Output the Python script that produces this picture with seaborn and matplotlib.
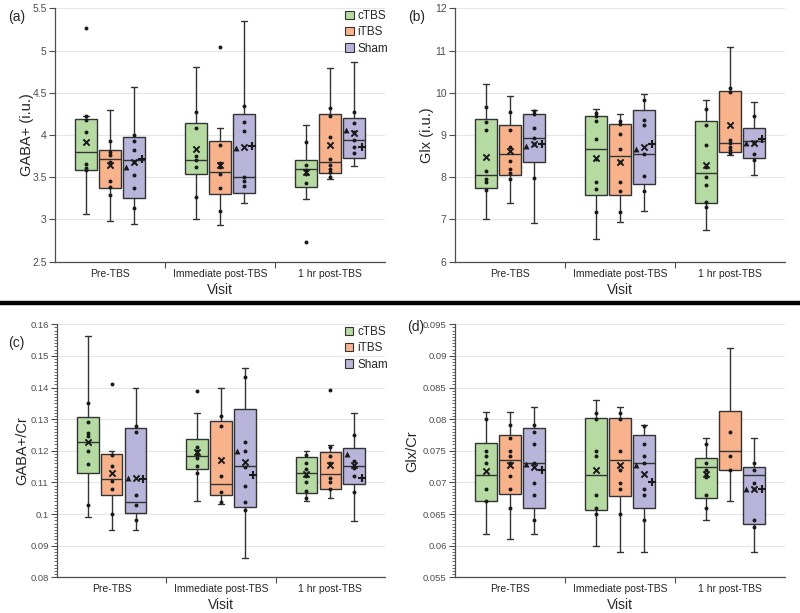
import numpy as np
import pandas as pd
import seaborn as sns
import matplotlib.pyplot as plt
from matplotlib.patches import Patch
from matplotlib.ticker import AutoMinorLocator, FuncFormatter

visits = ["Pre-TBS", "Immediate post-TBS", "1 hr post-TBS"]
groups = ["cTBS", "iTBS", "Sham"]
colors = ["#b5dba2", "#f8b28c", "#b8b4da"]

# box stats per visit/group: [whisker low, q1, median, q3, whisker high]
gaba_box = [[3.07, 3.59, 3.795, 4.19, 4.23], [2.98, 3.375, 3.71, 3.82, 4.30], [2.945, 3.25, 3.70, 3.98, 4.565],
            [3.0, 3.534, 3.704, 4.138, 4.81], [2.934, 3.305, 3.558, 3.933, 4.079], [3.198, 3.313, 3.506, 4.249, 5.35],
            [3.242, 3.388, 3.601, 3.704, 4.118], [3.475, 3.55, 3.676, 4.249, 4.797], [3.637, 3.728, 3.94, 4.198, 4.861]]
gaba_pts = [[5.27, 4.22, 4.18, 4.03, 3.66, 3.61, 3.59], [3.93, 3.80, 3.76, 3.68, 3.46, 3.38, 3.29],
            [4.00, 3.93, 3.82, 3.68, 3.53, 3.375, 3.13],
            [4.27, 4.08, 3.75, 3.70, 3.62, 3.27], [5.046, 3.88, 3.665, 3.62, 3.534, 3.368, 3.10],
            [4.347, 4.15, 4.043, 3.506, 3.452, 3.40],
            [3.92, 3.64, 3.58, 3.538, 3.435, 2.729], [4.316, 4.23, 3.972, 3.71, 3.65, 3.60, 3.56, 3.50],
            [4.268, 4.138, 4.03, 3.94, 3.862, 3.783]]
gaba_mean = [3.92, 3.645, 3.68, 3.83, 3.65, 3.857, 3.558, 3.882, 4.02]
gaba_tri = [3.617, 3.846, 4.059]
gaba_plus = [3.72, 3.869, 3.854]

glx_box = [[7.02, 7.75, 8.05, 9.39, 10.205], [7.40, 8.05, 8.55, 9.23, 9.93], [6.92, 8.37, 8.94, 9.49, 9.59],
           [6.53, 7.59, 8.66, 9.45, 9.61], [6.93, 7.575, 8.50, 9.25, 9.50], [7.20, 7.85, 8.54, 9.60, 9.96],
           [6.76, 7.39, 8.09, 9.33, 9.82], [8.52, 8.60, 8.81, 10.03, 11.09], [8.06, 8.46, 8.85, 9.17, 9.78]]
glx_pts = [[9.67, 9.31, 9.12, 8.15, 7.97, 7.88, 7.70], [9.55, 9.12, 8.71, 8.39, 8.19, 8.11, 7.95],
           [9.57, 9.49, 9.16, 8.94, 8.78, 7.99],
           [9.53, 9.46, 9.33, 8.90, 8.42, 7.88, 7.71, 7.17], [9.34, 9.26, 9.02, 8.66, 8.35, 7.89, 7.67, 7.18],
           [9.83, 9.36, 9.23, 8.54, 8.03, 7.68],
           [9.61, 9.23, 8.76, 8.24, 8.01, 7.82, 7.42, 7.30], [10.12, 10.02, 8.87, 8.80, 8.72, 8.65, 8.57],
           [9.46, 8.83, 8.80, 8.54, 8.40]]
glx_mean = [8.48, 8.62, 8.78, 8.46, 8.36, 8.72, 8.28, 9.23, 8.81]
glx_tri = [8.75, 8.68, 8.80]
glx_plus = [8.79, 8.78, 8.91]

gcr_box = [[0.099, 0.1129, 0.1227, 0.1306, 0.1563], [0.095, 0.106, 0.111, 0.1191, 0.120], [0.095, 0.1004, 0.1039, 0.1271, 0.140],
           [0.1041, 0.1143, 0.1185, 0.1236, 0.132], [0.1032, 0.106, 0.1094, 0.1295, 0.140], [0.086, 0.1023, 0.1152, 0.1331, 0.1461],
           [0.1041, 0.1066, 0.1131, 0.1179, 0.120], [0.105, 0.1079, 0.1127, 0.1197, 0.1218], [0.0979, 0.1094, 0.1153, 0.121, 0.132]]
gcr_pts = [[0.135, 0.129, 0.1257, 0.1248, 0.120, 0.1158, 0.1029], [0.141, 0.1187, 0.1152, 0.1103, 0.1078, 0.0999],
           [0.128, 0.126, 0.106, 0.103, 0.098],
           [0.139, 0.1213, 0.120, 0.119, 0.1176, 0.1153, 0.1131], [0.131, 0.1279, 0.112, 0.1071, 0.1039],
           [0.1432, 0.1229, 0.120, 0.115, 0.1089, 0.1039, 0.1013],
           [0.1187, 0.116, 0.1142, 0.112, 0.110, 0.1073, 0.105], [0.1392, 0.1213, 0.1182, 0.116, 0.1113, 0.110, 0.1078],
           [0.125, 0.1169, 0.1145, 0.112, 0.1069]]
gcr_mean = [0.1229, 0.1129, 0.1115, 0.1197, 0.1171, 0.1164, 0.1126, 0.1154, 0.1155]
gcr_tri = [0.1115, 0.120, 0.119]
gcr_plus = [0.111, 0.1124, 0.1113]

xcr_box = [[0.0618, 0.067, 0.0711, 0.0763, 0.0811], [0.061, 0.0682, 0.0735, 0.0775, 0.0811], [0.0618, 0.066, 0.073, 0.0786, 0.082],
           [0.060, 0.0657, 0.0711, 0.0802, 0.083], [0.059, 0.0679, 0.0735, 0.0802, 0.082], [0.059, 0.066, 0.073, 0.0775, 0.0791],
           [0.064, 0.0675, 0.0725, 0.0738, 0.0771], [0.067, 0.072, 0.075, 0.0813, 0.0912], [0.059, 0.0634, 0.0711, 0.0725, 0.0771]]
xcr_pts = [[0.0801, 0.075, 0.0741, 0.073, 0.0689, 0.067], [0.0791, 0.0771, 0.075, 0.0741, 0.073, 0.071, 0.069, 0.066],
           [0.0791, 0.078, 0.076, 0.073, 0.0699, 0.068, 0.064],
           [0.081, 0.080, 0.075, 0.0741, 0.068, 0.0659, 0.065], [0.081, 0.0801, 0.075, 0.072, 0.0699, 0.0689, 0.065],
           [0.0789, 0.076, 0.0741, 0.073, 0.069, 0.068, 0.064],
           [0.076, 0.073, 0.072, 0.0709, 0.068, 0.066], [0.078, 0.0741, 0.072],
           [0.073, 0.072, 0.0699, 0.069, 0.064, 0.063]]
xcr_mean = [0.0718, 0.0727, 0.0725, 0.0720, 0.0728, 0.0713, 0.0713, np.nan, 0.069]
xcr_tri = [0.0729, 0.0728, 0.0689]
xcr_plus = [0.072, 0.070, 0.0689]

sns.set_theme(style="white")
plt.rcParams["font.family"] = ["Liberation Sans", "DejaVu Sans"]

fig = plt.figure(figsize=(8, 6.13), dpi=100)

W = 0.655
slot = W / 3
offs = [-slot, 0, slot]


def panel(px, box, pts, means, tri, plus, ylim, yticks, ylabel, lab_edge, tag, tag_xy,
          tick_fs=7.5, minor=False, legend=False):
    # px: left, top, right, bottom in pixels
    l, t, r, b = px
    rect = [l / 800, 1 - b / 613, (r - l) / 800, (b - t) / 613]
    ax = fig.add_axes(rect)
    rows = []
    for i, v in enumerate(visits):
        for j, g in enumerate(groups):
            for val in box[i * 3 + j]:
                rows.append((v, g, val))
    df = pd.DataFrame(rows, columns=["visit", "group", "value"])
    sns.boxplot(data=df, x="visit", y="value", hue="group", order=visits, hue_order=groups,
                palette=colors, saturation=1, width=W, gap=0.1, whis=(0, 100),
                linecolor="#333333", linewidth=1, legend=False, ax=ax, capwidths=0.05)
    for i in range(3):
        for j in range(3):
            k = i * 3 + j
            x = i + offs[j]
            ax.scatter([x] * len(pts[k]), pts[k], s=8, color="#1a1a1a", zorder=5, linewidths=0)
            if not np.isnan(means[k]):
                ax.scatter([x], [means[k]], marker="x", s=20, color="#1a1a1a", linewidths=1.4, zorder=6)
        xs = i + offs[2]
        ax.scatter([xs - 0.07], [tri[i]], marker="^", s=18, color="#1a1a1a", linewidths=0, zorder=6)
        ax.scatter([xs + 0.07], [plus[i]], marker="+", s=40, color="#1a1a1a", linewidths=1.5, zorder=6)

    ax.set_xlim(-0.5, 2.5)
    ax.set_ylim(*ylim)
    ax.set_yticks(yticks)
    ax.yaxis.set_major_formatter(FuncFormatter(lambda v, p: "%g" % round(v, 4)))
    ax.yaxis.grid(True, color="#e6e6e6", linewidth=0.8)
    ax.set_axisbelow(True)
    for s in ["top", "right"]:
        ax.spines[s].set_visible(False)
    for s in ["left", "bottom"]:
        ax.spines[s].set_color("#4d4d4d")
        ax.spines[s].set_linewidth(0.9)
    ax.tick_params(axis="y", which="major", left=True, length=4, width=0.8, color="#4d4d4d",
                   labelsize=tick_fs, labelcolor="#4d4d4d", pad=2)
    if minor:
        ax.yaxis.set_minor_locator(AutoMinorLocator(10))
        ax.tick_params(axis="y", which="minor", left=True, length=2, width=0.6, color="#4d4d4d")
    ax.set_xticks([0, 1, 2])
    ax.set_xticklabels(visits)
    ax.set_xticks([0.5, 1.5], minor=True)
    ax.tick_params(axis="x", which="major", length=0, labelsize=7.5, labelcolor="#262626", pad=5)
    ax.tick_params(axis="x", which="minor", bottom=True, length=4, width=0.8, color="#4d4d4d")
    ax.set_xlabel("Visit", fontsize=10, color="#262626", labelpad=3)
    ax.set_ylabel(ylabel, fontsize=10.5, color="#262626")
    ax.yaxis.set_label_coords((lab_edge - l) / (r - l), 0.5)
    fig.text(tag_xy[0] / 800, 1 - tag_xy[1] / 613, tag, fontsize=10, color="#262626", va="center")
    if legend:
        handles = [Patch(facecolor=c, edgecolor="#333333", linewidth=0.8, label=g) for c, g in zip(colors, groups)]
        ax.legend(handles=handles, loc="upper right", bbox_to_anchor=(1.03, 1.02), frameon=False,
                  fontsize=8.5, handlelength=0.7, handleheight=0.7, handletextpad=0.3,
                  labelspacing=0.35, borderaxespad=0.2)
    return ax


panel((55, 8.3, 385, 261.7), gaba_box, gaba_pts, gaba_mean, gaba_tri, gaba_plus,
      (2.5, 5.5), [2.5, 3, 3.5, 4, 4.5, 5, 5.5], "GABA+ (i.u.)", 34, "(a)", (8, 17), legend=True)
panel((455, 8.3, 785, 261.7), glx_box, glx_pts, glx_mean, glx_tri, glx_plus,
      (6, 12), [6, 7, 8, 9, 10, 11, 12], "Glx (i.u.)", 434, "(b)", (408, 17))
panel((57, 324.3, 385, 577.3), gcr_box, gcr_pts, gcr_mean, gcr_tri, gcr_plus,
      (0.08, 0.16), [0.08, 0.09, 0.10, 0.11, 0.12, 0.13, 0.14, 0.15, 0.16], "GABA+/Cr", 29, "(c)", (8, 343),
      tick_fs=6.8, minor=True, legend=True)
panel((455, 324.3, 785, 577.3), xcr_box, xcr_pts, xcr_mean, xcr_tri, xcr_plus,
      (0.055, 0.095), [0.055, 0.06, 0.065, 0.07, 0.075, 0.08, 0.085, 0.09, 0.095], "Glx/Cr", 419, "(d)", (407, 327),
      tick_fs=6.8, minor=True)

fig.add_artist(plt.Line2D([0, 1], [1 - 303 / 613, 1 - 303 / 613], transform=fig.transFigure,
                          color="black", linewidth=3.2))

fig.savefig("out.png", dpi=100)
